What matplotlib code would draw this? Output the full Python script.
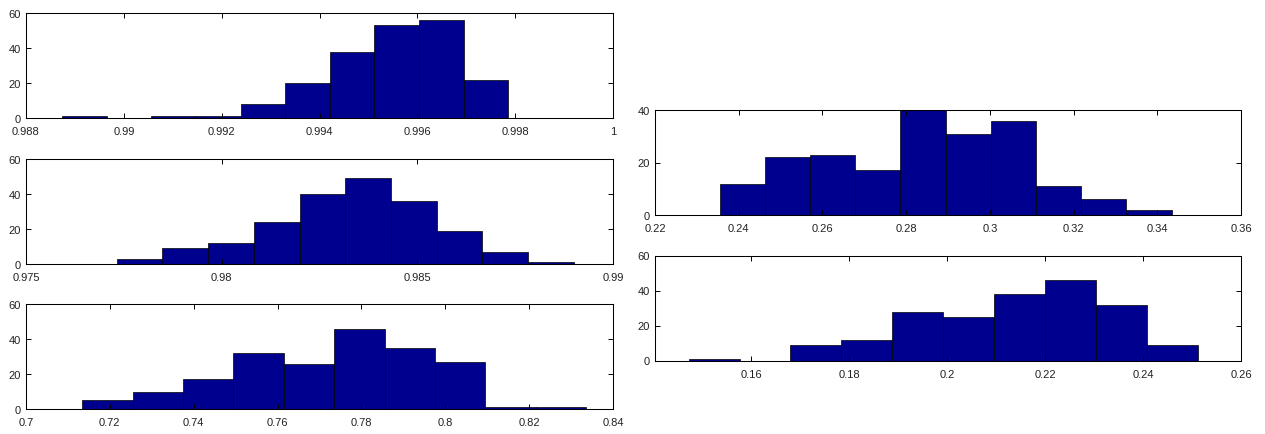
import numpy as np
import matplotlib
matplotlib.use("Agg")
import matplotlib.pyplot as plt
from matplotlib.ticker import FormatStrFormatter

# histogram counts (10 bins each, 200 samples)
counts_tl = [1, 0, 1, 1, 8, 20, 38, 53, 56, 22]
counts_ml = [3, 9, 12, 24, 40, 49, 36, 19, 7, 1]
counts_bl = [5, 10, 17, 32, 26, 46, 35, 27, 1, 1]
counts_tr = [12, 22, 23, 17, 40, 31, 36, 11, 6, 2]
counts_br = [1, 0, 9, 12, 28, 25, 38, 46, 32, 9]

# data range (min, max) of each histogram
range_tl = (0.98874, 0.99786)
range_ml = (0.97732, 0.98900)
range_bl = (0.71340, 0.83360)
range_tr = (0.23541, 0.34341)
range_br = (0.14725, 0.25125)

# axis limits and ticks
xlim_tl = (0.988, 1.0)
xlim_ml = (0.975, 0.99)
xlim_bl = (0.7, 0.84)
xlim_tr = (0.22, 0.36)
xlim_br = (0.1404, 0.26)

xticks_tl = [0.988, 0.99, 0.992, 0.994, 0.996, 0.998, 1.0]
xticks_ml = [0.975, 0.98, 0.985, 0.99]
xticks_bl = [0.7, 0.72, 0.74, 0.76, 0.78, 0.8, 0.82, 0.84]
xticks_tr = [0.22, 0.24, 0.26, 0.28, 0.3, 0.32, 0.34, 0.36]
xticks_br = [0.16, 0.18, 0.2, 0.22, 0.24, 0.26]

ylim_60 = (0, 60)
ylim_40 = (0, 40)
yticks_60 = [0, 20, 40, 60]
yticks_40 = [0, 20, 40]

bar_color = "#00008F"

plt.rcParams["font.family"] = ["Liberation Sans", "DejaVu Sans"]
fig = plt.figure(figsize=(12.65, 4.35), dpi=100)
W, H = 1265.0, 435.0


def make_axes(left, top, right, bottom):
    return fig.add_axes([left / W, 1 - bottom / H, (right - left) / W, (bottom - top) / H])


def draw_hist(ax, counts, rng, xlim, xticks, ylim, yticks):
    edges = np.linspace(rng[0], rng[1], len(counts) + 1)
    ax.bar(edges[:-1], counts, width=np.diff(edges), align="edge",
           color=bar_color, edgecolor="black", linewidth=0.5)
    ax.set_xlim(xlim)
    ax.set_ylim(ylim)
    ax.set_xticks(xticks)
    ax.set_yticks(yticks)
    ax.xaxis.set_major_formatter(FormatStrFormatter("%g"))
    ax.tick_params(direction="in", length=3.6, width=0.7, labelsize=8,
                   top=True, right=True, labelcolor="#222222")
    ax.tick_params(axis="x", pad=6)
    ax.tick_params(axis="y", pad=3.5)
    for s in ax.spines.values():
        s.set_linewidth(0.75)


ax1 = make_axes(26, 14, 613, 119)
draw_hist(ax1, counts_tl, range_tl, xlim_tl, xticks_tl, ylim_60, yticks_60)

ax2 = make_axes(26, 160, 613, 265)
draw_hist(ax2, counts_ml, range_ml, xlim_ml, xticks_ml, ylim_60, yticks_60)

ax3 = make_axes(26, 305, 613, 410)
draw_hist(ax3, counts_bl, range_bl, xlim_bl, xticks_bl, ylim_60, yticks_60)

ax4 = make_axes(655, 111, 1241, 216)
draw_hist(ax4, counts_tr, range_tr, xlim_tr, xticks_tr, ylim_40, yticks_40)

ax5 = make_axes(655, 256.5, 1241, 361.5)
draw_hist(ax5, counts_br, range_br, xlim_br, xticks_br, ylim_60, yticks_60)

fig.savefig("out.png", dpi=100)
